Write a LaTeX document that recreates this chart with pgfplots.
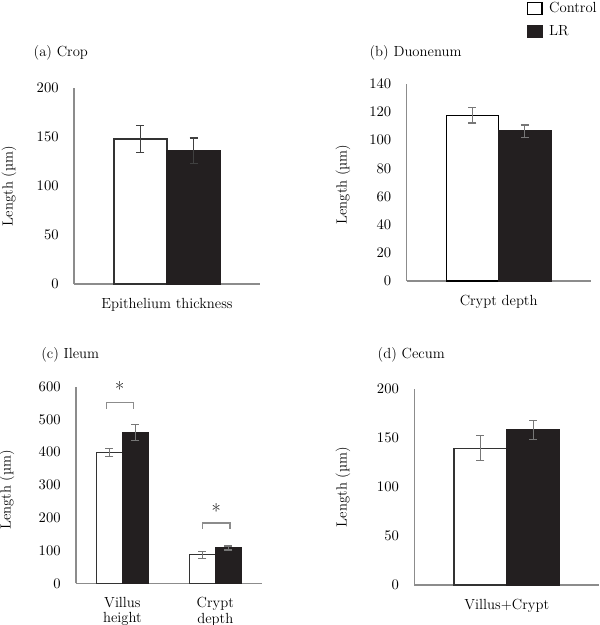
\documentclass[border=0pt]{standalone}
\usepackage{pgfplots}
\pgfplotsset{compat=1.18}
\definecolor{lrfill}{HTML}{231F20}
\definecolor{axgray}{HTML}{8C8C8C}
\definecolor{errgray}{HTML}{777777}
\definecolor{edge}{HTML}{333333}
\newcommand{\fs}{\fontsize{11}{12}\selectfont}
\pgfplotsset{
  panel/.style={
    scale only axis,
    axis x line=bottom, axis y line=left,
    axis line style={axgray, line width=1.1pt, -},
    major tick length=0pt,
    ymin=0,
    ybar=0pt,
    clip=false,
    every axis title shift=0pt,
    tick label style={font=\fs},
    label style={font=\fs},
    title style={font=\fs, anchor=west},
    yticklabel style={xshift=-8pt},
    xticklabel style={yshift=-7pt, align=center, font=\fontsize{11}{11.5}\selectfont},
    ylabel={Length (µm)},
  },
  ctrl/.style={fill=white, draw=edge, line width=1pt},
  lr/.style={fill=lrfill, draw=lrfill, line width=1pt},
  errs/.style={error bars/.cd, y dir=both, y explicit,
    error bar style={errgray, line width=0.9pt},
    error mark options={errgray, rotate=90, mark size=3pt, line width=0.9pt}},
  errsdark/.style={error bars/.cd, y dir=both, y explicit,
    error bar style={black!75, line width=0.9pt},
    error mark options={black!75, rotate=90, mark size=3pt, line width=0.9pt}},
}
\begin{document}
\begin{tikzpicture}
\useasboundingbox (0,0) rectangle (450pt,-468.75pt);
% (a) Crop
\begin{axis}[panel, at={(55.5pt,-213pt)}, anchor=south west,
  width=139.5pt, height=147pt,
  xmin=-1, xmax=1, bar width=0.57,
  ymax=200, ytick={0,50,100,150,200},
  xtick={0}, xticklabels={Epithelium thickness},
  title={(a) Crop}, title style={at={(axis description cs:-0.242,1.179)}},
  ylabel style={at={(axis description cs:-0.349,0.5)}, anchor=center},
]
\addplot[ctrl, errsdark] coordinates {(0,148) +- (0,13.5)};
\addplot[lr, errsdark] coordinates {(0,136) +- (0,13)};
\end{axis}
% (b) Duonenum
\begin{axis}[panel, at={(305pt,-210.75pt)}, anchor=south west,
  width=138pt, height=147.75pt,
  xmin=-1, xmax=1, bar width=0.57,
  ymax=140, ytick={0,20,40,60,80,100,120,140},
  xtick={0}, xticklabels={Crypt depth},
  title={(b) Duonenum}, title style={at={(axis description cs:-0.227,1.157)}},
  ylabel style={at={(axis description cs:-0.346,0.49)}, anchor=center},
  legend style={at={(axis description cs:0.65,1.425)}, anchor=north west,
    draw=none, fill=none, inner sep=0pt, row sep=5pt, font=\fs,
    nodes={inner sep=1.5pt}},
  legend cell align=left,
  legend image code/.code={\draw[#1] (0pt,-4.5pt) rectangle (11pt,4.5pt); \path (14.5pt,0pt);},
]
\addplot[ctrl, draw=black, errs] coordinates {(0,117.8) +- (0,5.5)};
\addplot[lr, errs] coordinates {(0,106.5) +- (0,4.4)};
\legend{Control, LR}
\end{axis}
% (c) Ileum
\begin{axis}[panel, at={(57pt,-437.5pt)}, anchor=south west,
  width=139.3pt, height=147.5pt,
  xmin=-0.5, xmax=1.5, bar width=0.28,
  ymax=600, ytick={0,100,200,300,400,500,600},
  xtick={0,1}, xticklabels={Villus\\height, Crypt\\depth},
  title={(c) Ileum}, title style={at={(axis description cs:-0.212,1.161)}},
  ylabel style={at={(axis description cs:-0.372,0.475)}, anchor=center},
]
\addplot[ctrl, errs] coordinates {(0,400) +- (0,12) (1,87) +- (0,10)};
\addplot[lr, errs] coordinates {(0,460) +- (0,25) (1,108) +- (0,6)};
\draw[axgray, line width=1pt] (axis cs:-0.17,533) -- (axis cs:-0.17,551) -- (axis cs:0.12,551) -- (axis cs:0.12,533);
\draw[axgray, line width=1pt] (axis cs:0.86,166) -- (axis cs:0.86,184) -- (axis cs:1.16,184) -- (axis cs:1.16,166);
\node[font=\fontsize{15}{15}\selectfont] at (axis cs:-0.03,594) {*};
\node[font=\fontsize{15}{15}\selectfont] at (axis cs:1.01,220) {*};
\end{axis}
% (d) Cecum
\begin{axis}[panel, at={(310.7pt,-438.75pt)}, anchor=south west,
  width=138.75pt, height=147pt,
  xmin=-1, xmax=1, bar width=0.57,
  ymax=200, ytick={0,50,100,150,200},
  xtick={0}, xticklabels={Villus+Crypt},
  title={(d) Cecum}, title style={at={(axis description cs:-0.223,1.173)}},
  ylabel style={at={(axis description cs:-0.385,0.5)}, anchor=center},
]
\addplot[ctrl, errs] coordinates {(0,139.6) +- (0,12.8)};
\addplot[lr, errs] coordinates {(0,158.4) +- (0,9.7)};
\end{axis}
\end{tikzpicture}
\end{document}
